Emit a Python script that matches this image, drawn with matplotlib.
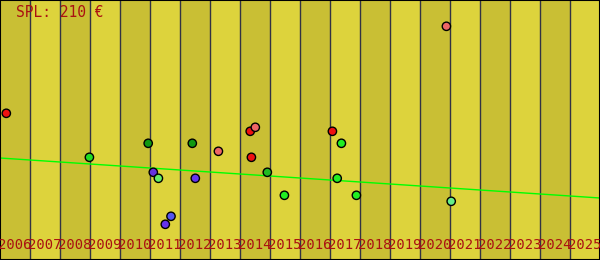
import numpy as np
import matplotlib
matplotlib.use("Agg")
import matplotlib.pyplot as plt

# listings: fractional year vs price (€)
years = [2006.21, 2008.98, 2010.94, 2012.41, 2011.11, 2011.28, 2012.51,
         2011.70, 2011.51, 2013.28, 2014.34, 2014.51, 2014.38, 2014.91,
         2015.48, 2017.08, 2017.38, 2017.24, 2017.88, 2020.88, 2021.04]
prices = [146.7, 102.7, 116.7, 116.7, 87.7, 81.7, 81.7,
          43.7, 35.7, 108.7, 128.7, 132.7, 102.7, 87.7,
          64.7, 128.7, 116.7, 81.7, 64.7, 233.7, 58.7]
colors = ["#ee1111", "#22dd22", "#119911", "#119911", "#6633dd", "#66ee66", "#6633ee",
          "#5555ee", "#6633ee", "#ee6666", "#ee1111", "#ee6666", "#ee1111", "#22bb22",
          "#22ee22", "#ee1111", "#22ee22", "#22ee22", "#22ee22", "#ee6666", "#66ee88"]

trend_x = [2006, 2026]
trend_y = [102.0, 62.0]

year_labels = [str(y) for y in range(2006, 2026)]
title = "SPL: 210 €"

LIGHT = "#ddd33c"
DARK = "#c9bf34"
RED = "#aa1111"

fig = plt.figure(figsize=(6, 2.6), dpi=100)
ax = fig.add_axes([0, 0, 1, 1])
ax.set_xlim(2006, 2026)
ax.set_ylim(0, 260)
ax.set_facecolor(LIGHT)

for i, lab in enumerate(year_labels):
    y0 = 2006 + i
    if i % 2 == 0:
        ax.axvspan(y0, y0 + 1, color=DARK, lw=0, zorder=0)
    if i > 0:
        ax.axvline(y0, color="#333344", lw=1.0, zorder=1)
    ax.text(y0 + 0.5, 15, lab, ha="center", va="center", color=RED,
            family="DejaVu Sans Mono", fontsize=10, zorder=5)

ax.plot(trend_x, trend_y, color="#00ff00", lw=1, zorder=2)
ax.scatter(years, prices, s=36, c=colors, edgecolors="black", linewidths=1, zorder=4)

ax.text(0.026, 0.953, title, transform=ax.transAxes, ha="left", va="center",
        color=RED, family="DejaVu Sans Mono", fontsize=10.5)

ax.set_xticks([])
ax.set_yticks([])
for s in ax.spines.values():
    s.set_color("black")
    s.set_linewidth(1.5)

fig.savefig("out.png", dpi=100)
